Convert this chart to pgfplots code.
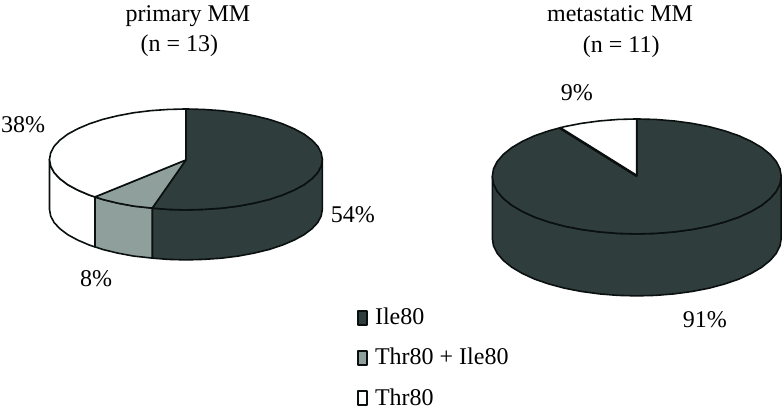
\documentclass[border=0pt]{standalone}
\usepackage{fontspec}
\setmainfont{Liberation Serif}
\usepackage{pgfplots}
\pgfplotsset{compat=1.18}
\definecolor{darkslice}{HTML}{2F3D3C}
\definecolor{greyslice}{HTML}{8F9F9B}
\definecolor{edge}{HTML}{0A0F0F}
\tikzset{lab/.style={font=\fontsize{24}{24}\selectfont,inner sep=0pt,anchor=base west},
  labc/.style={font=\fontsize{24}{24}\selectfont,inner sep=0pt,anchor=base}}
\pgfplotsset{slice/.style={draw=edge,line width=1.6pt,line join=round}}
\begin{document}
\begin{tikzpicture}
\begin{axis}[
    scale only axis,
    width=782pt,
    height=411pt,
    xmin=0, xmax=782,
    ymin=0, ymax=411,
    y dir=reverse,
    hide axis,
    clip=false,
]
% hidden axis leaves no box, so keep the full page size
\path (axis cs:0,0) rectangle (axis cs:781.7,411);
% primary MM, side walls
\addplot[slice,fill=darkslice] coordinates {
  (322.5,159.5) (321.3,166.1) (317.9,172.6) (312.1,178.8) (304.2,184.8) (294.2,190.2) (282.5,195.2) (269.1,199.6)
  (254.3,203.2) (238.3,206.2) (221.3,208.3) (203.9,209.5) (186,210) (168.1,209.5) (152.3,208.2)
  (152.3,258.2) (168.1,259.5) (186,260) (203.9,259.5) (221.3,258.3) (238.3,256.2) (254.3,253.2) (269.1,249.6)
  (282.5,245.2) (294.2,240.2) (304.2,234.8) (312.1,228.8) (317.9,222.6) (321.3,216.1) (322.5,209.5)
} -- cycle;
\addplot[slice,fill=greyslice] coordinates {
  (152.3,208.2) (133.7,206.2) (117.7,203.2) (102.9,199.6) (95,197)
  (95,247) (102.9,249.6) (117.7,253.2) (133.7,256.2) (152.3,258.2)
} -- cycle;
\addplot[slice,fill=white] coordinates {
  (95,197) (89.5,195.2) (77.8,190.2) (67.8,184.8) (59.9,178.8) (54.1,172.6) (50.7,166.1) (49.5,159.5)
  (49.5,209.5) (50.7,216.1) (54.1,222.6) (59.9,228.8) (67.8,234.8) (77.8,240.2) (89.5,245.2) (95,247)
} -- cycle;
% primary MM, top
\addplot[slice,fill=darkslice] coordinates {
  (186,160) (186,109) (203.9,109.5) (221.3,110.7) (238.3,112.8) (254.3,115.8) (269.1,119.4) (282.5,123.8)
  (294.2,128.8) (304.2,134.2) (312.1,140.2) (317.9,146.4) (321.3,152.9) (322.5,159.5)
  (321.3,166.1) (317.9,172.6) (312.1,178.8) (304.2,184.8) (294.2,190.2) (282.5,195.2) (269.1,199.6)
  (254.3,203.2) (238.3,206.2) (221.3,208.3) (203.9,209.5) (186,210) (168.1,209.5) (152.3,208.2)
} -- cycle;
\addplot[slice,fill=greyslice] coordinates {
  (186,160) (152.3,208.2) (133.7,206.2) (117.7,203.2) (102.9,199.6) (95,197)
} -- cycle;
\addplot[slice,fill=white] coordinates {
  (186,160) (95,197) (89.5,195.2) (77.8,190.2) (67.8,184.8) (59.9,178.8) (54.1,172.6) (50.7,166.1) (49.5,159.5)
  (50.7,152.9) (54.1,146.4) (59.9,140.2) (67.8,134.2) (77.8,128.8) (89.5,123.8) (102.9,119.4) (117.7,115.8)
  (133.7,112.8) (150.7,110.7) (168.1,109.5) (186,109)
} -- cycle;
% metastatic MM, side wall
\addplot[slice,fill=darkslice] coordinates {
  (781.5,176.5) (780.3,184) (776.6,191.4) (770.5,198.5) (762.1,205.3) (751.6,211.5) (739.2,217.2) (725,222.1)
  (709.3,226.3) (692.3,229.6) (674.4,232) (655.9,233.5) (637,234) (618.1,233.5) (599.6,232) (581.7,229.6)
  (564.7,226.3) (549,222.1) (534.8,217.2) (522.4,211.5) (511.9,205.3) (503.5,198.5) (497.4,191.4) (493.7,184) (492.5,176.5)
  (492.5,238.5) (493.7,246) (497.4,253.4) (503.5,260.5) (511.9,267.3) (522.4,273.5) (534.8,279.2) (549,284.1)
  (564.7,288.3) (581.7,291.6) (599.6,294) (618.1,295.5) (637,296) (655.9,295.5) (674.4,294) (692.3,291.6)
  (709.3,288.3) (725,284.1) (739.2,279.2) (751.6,273.5) (762.1,267.3) (770.5,260.5) (776.6,253.4) (780.3,246) (781.5,238.5)
} -- cycle;
% metastatic MM, top
\addplot[slice,fill=darkslice] coordinates {
  (637,176) (637,119) (655.9,119.5) (674.4,121) (692.3,123.4) (709.3,126.7) (725,130.9) (739.2,135.8) (751.6,141.5)
  (762.1,147.7) (770.5,154.5) (776.6,161.6) (780.3,169) (781.5,176.5)
  (780.3,184) (776.6,191.4) (770.5,198.5) (762.1,205.3) (751.6,211.5) (739.2,217.2) (725,222.1)
  (709.3,226.3) (692.3,229.6) (674.4,232) (655.9,233.5) (637,234) (618.1,233.5) (599.6,232) (581.7,229.6)
  (564.7,226.3) (549,222.1) (534.8,217.2) (522.4,211.5) (511.9,205.3) (503.5,198.5) (497.4,191.4) (493.7,184) (492.5,176.5)
  (493.7,169) (497.4,161.6) (503.5,154.5) (511.9,147.7) (522.4,141.5) (534.8,135.8) (549,130.9) (560,127.9)
} -- cycle;
\addplot[slice,fill=white] coordinates {
  (637,176) (560,127.9) (564.7,126.7) (581.7,123.4) (599.6,121) (618.1,119.5) (637,119)
} -- cycle;
\addplot[draw=edge,line width=2.6pt] coordinates {(637,176) (560,127.9)};
% legend swatches
\addplot[slice,line width=1.8pt,fill=darkslice] coordinates {(358,311.5) (367.5,311.5) (367.5,325.5) (358,325.5)} -- cycle;
\addplot[slice,line width=1.8pt,fill=greyslice] coordinates {(358,351) (367.5,351) (367.5,365.5) (358,365.5)} -- cycle;
\addplot[slice,line width=1.8pt,fill=white] coordinates {(358,391) (367.5,391) (367.5,405.5) (358,405.5)} -- cycle;
% text
\node[labc] at (axis cs:188,22) {primary MM};
\node[labc] at (axis cs:179.5,52) {(n = 13)};
\node[labc] at (axis cs:620.3,22) {metastatic MM};
\node[labc] at (axis cs:621.5,52.5) {(n = 11)};
\node[lab] at (axis cs:1,132.7) {38\%};
\node[lab] at (axis cs:330.7,222.7) {54\%};
\node[lab] at (axis cs:80,286.7) {8\%};
\node[lab] at (axis cs:561,100.7) {9\%};
\node[lab] at (axis cs:683,327.3) {91\%};
\node[lab] at (axis cs:375,325) {Ile80};
\node[lab] at (axis cs:375,365) {Thr80 + Ile80};
\node[lab] at (axis cs:375,405.5) {Thr80};
\end{axis}
\end{tikzpicture}
\end{document}
